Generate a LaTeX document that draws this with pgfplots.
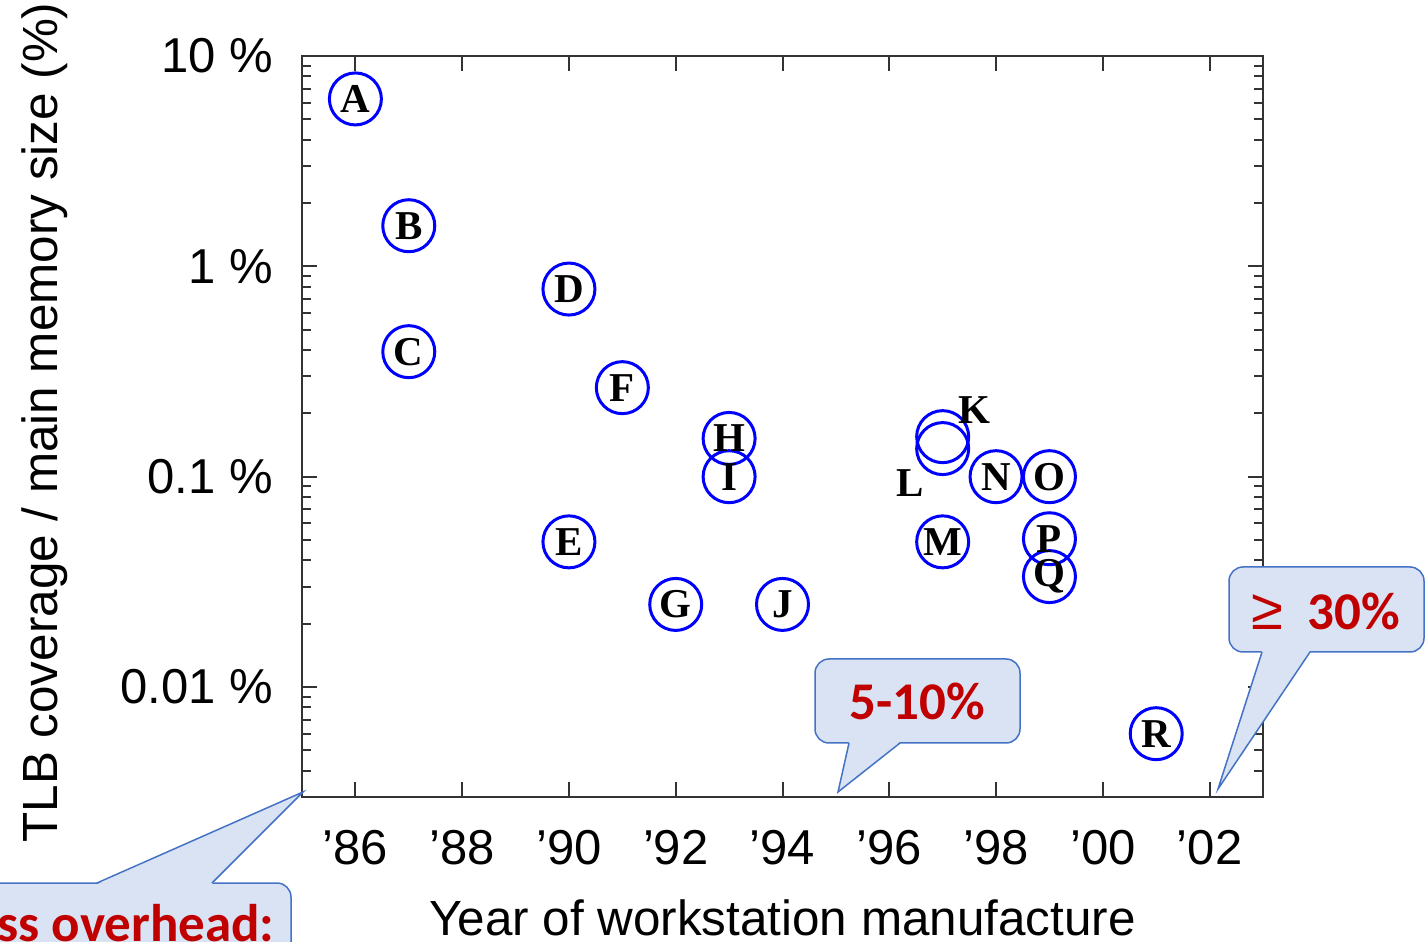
\documentclass[border=0pt]{standalone}
\usepackage{pgfplots}
\pgfplotsset{compat=1.18}
\usepackage{fontspec}
\setmainfont{Liberation Sans}
\newfontfamily\letterfont{Liberation Serif}
\newfontfamily\calloutfont{Carlito}
\definecolor{calloutfill}{HTML}{DAE3F3}
\definecolor{calloutdraw}{HTML}{4472C4}
\definecolor{calloutred}{HTML}{C00000}
\begin{document}
\begin{tikzpicture}
\begin{axis}[
  at={(0,0)}, anchor=south west,
  scale only axis, width=480.5pt, height=370.5pt,
  xmin=1985, xmax=2003,
  ymode=log, ymin=0.003, ymax=10,
  xtick={1986,1988,1990,1992,1994,1996,1998,2000,2002},
  xticklabels={’86,’88,’90,’92,’94,’96,’98,’00,’02},
  ytick={0.01,0.1,1,10},
  yticklabels={0.01 \%,0.1 \%,1 \%,10 \%},
  minor ytick={0.003,0.004,0.005,0.006,0.007,0.008,0.009,
    0.02,0.03,0.04,0.05,0.06,0.07,0.08,0.09,
    0.2,0.3,0.4,0.5,0.6,0.7,0.8,0.9,
    2,3,4,5,6,7,8,9},
  tick align=inside,
  major tick length=7.5pt, minor tick length=4.5pt,
  axis line style={line width=1pt, black!80},
  tick style={line width=1pt, black!80},
  tick label style={font=\fontsize{24.5}{29}\selectfont},
  yticklabel style={xshift=-11pt},
  xticklabel style={yshift=-13pt},
  label style={font=\fontsize{24.7}{29}\selectfont},
  xlabel={Year of workstation manufacture},
  ylabel={TLB coverage / main memory size (\%)},
  xlabel style={at={(axis description cs:0.5,0)}, anchor=base, yshift=-69pt},
  ylabel style={at={(axis description cs:-0.2549,0.5054)}, anchor=base},
  clip=false,
]
\addplot[only marks, mark=o, mark size=13pt, mark options={draw=blue, line width=1.5pt}]
coordinates {
(1986,6.25) (1987,1.56) (1987,0.393) (1990,0.78) (1990,0.049)
(1991,0.265) (1992,0.0247) (1993,0.152) (1993,0.1) (1994,0.0247)
(1997,0.155) (1997,0.136) (1997,0.049) (1998,0.1) (1999,0.1)
(1999,0.0507) (1999,0.0335) (2001,0.0060)
};
\addplot[draw=none, mark=none, nodes near coords, point meta=explicit symbolic,
  every node near coord/.append style={anchor=center, inner sep=0pt, text=black,
    font=\letterfont\bfseries\fontsize{20.5}{20}\selectfont}]
coordinates {
(1986,6.25)[A] (1987,1.56)[B] (1987,0.393)[C] (1990,0.78)[D] (1990,0.049)[E]
(1991,0.265)[F] (1992,0.0247)[G] (1993,0.152)[H] (1993,0.1)[I] (1994,0.0247)[J]
(1997.6,0.208)[K] (1996.39,0.0937)[L] (1997,0.049)[M] (1998,0.1)[N] (1999,0.1)[O]
(1999,0.0507)[P] (1999,0.0335)[Q] (2001,0.0060)[R]
};
\end{axis}
% callouts
\begin{scope}[line width=0.75pt]
% 5-10%
\filldraw[fill=calloutfill, draw=calloutdraw, rounded corners=7pt] (256.5pt,27pt) rectangle (359pt,69pt);
\fill[calloutfill] (273.5pt,27.6pt) -- (268pt,2.5pt) -- (299pt,27.6pt) -- cycle;
\draw[calloutdraw] (273.5pt,27pt) -- (268pt,2.5pt) -- (299pt,27pt);
\node[text=calloutred, font=\calloutfont\bfseries\fontsize{26.5}{30}\selectfont] at (307.5pt,48pt) {5-10\%};
% >= 30%
\filldraw[fill=calloutfill, draw=calloutdraw, rounded corners=7pt] (463.5pt,72.5pt) rectangle (561pt,115pt);
\fill[calloutfill] (480pt,73.1pt) -- (458pt,4pt) -- (504pt,73.1pt) -- cycle;
\draw[calloutdraw] (480pt,72.5pt) -- (458pt,4pt) -- (504pt,72.5pt);
\node[text=calloutred, font=\calloutfont\bfseries\fontsize{26.5}{30}\selectfont] at (512pt,93pt) {{\normalfont\fontsize{29}{30}\selectfont ≥}\hspace{0.45em}30\%};
% TLB miss overhead
\filldraw[fill=calloutfill, draw=calloutdraw, rounded corners=7pt] (-260pt,-110pt) rectangle (-5.5pt,-43pt);
\fill[calloutfill] (-102.5pt,-43.6pt) -- (0.5pt,2.5pt) -- (-45pt,-43.6pt) -- cycle;
\draw[calloutdraw] (-102.5pt,-43pt) -- (0.5pt,2.5pt) -- (-45pt,-43pt);
\node[anchor=base east, text=calloutred, font=\calloutfont\bfseries\fontsize{26.5}{30}\selectfont] at (-10pt,-72pt) {TLB miss overhead:};
\end{scope}
\pgfresetboundingbox
\useasboundingbox (-151pt,-72pt) rectangle (562.5pt,398.5pt);
\end{tikzpicture}
\end{document}
